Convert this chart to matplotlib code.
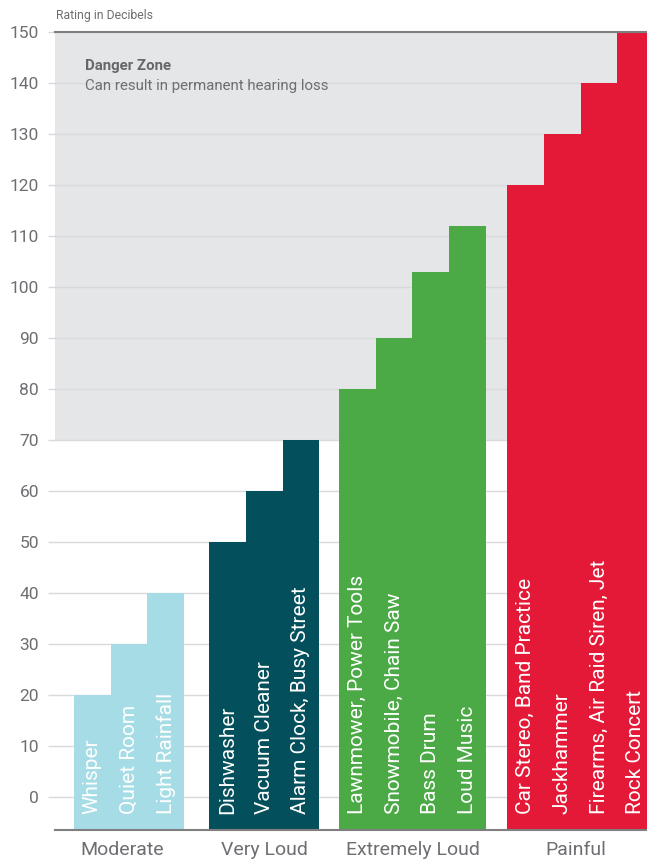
import matplotlib
matplotlib.use('Agg')
import matplotlib.pyplot as plt
from matplotlib.patches import Rectangle

plt.rcParams['font.family'] = ['Roboto', 'DejaVu Sans']

# ---- data ----
groups = ['Moderate', 'Very Loud', 'Extremely Loud', 'Painful']
group_colors = ['#A6DCE6', '#034F5B', '#4BAA46', '#E31937']

moderate_sources = ['Whisper', 'Quiet Room', 'Light Rainfall']
moderate_db = [20, 30, 40]
very_loud_sources = ['Dishwasher', 'Vacuum Cleaner', 'Alarm Clock, Busy Street']
very_loud_db = [50, 60, 70]
extremely_loud_sources = ['Lawnmower, Power Tools', 'Snowmobile, Chain Saw', 'Bass Drum', 'Loud Music']
extremely_loud_db = [80, 90, 103, 112]
painful_sources = ['Car Stereo, Band Practice', 'Jackhammer', 'Firearms, Air Raid Siren, Jet', 'Rock Concert']
painful_db = [120, 130, 140, 150]

group_sources = [moderate_sources, very_loud_sources, extremely_loud_sources, painful_sources]
group_db = [moderate_db, very_loud_db, extremely_loud_db, painful_db]

y_ticks = list(range(0, 151, 10))
danger_threshold = 70

# ---- figure ----
W, H = 647, 864
fig = plt.figure(figsize=(W / 100, H / 100), dpi=100)
ax = fig.add_axes([55 / W, 34 / H, 592 / W, 798 / H])

ymin, ymax = -6.5, 150
ax.set_ylim(ymin, ymax)
ax.set_xlim(-0.518, 15.61)

grey_text = '#6D6E71'

# danger zone
ax.add_patch(Rectangle((0, danger_threshold), 1, ymax - danger_threshold,
                       transform=ax.get_yaxis_transform(), facecolor='#E5E6E8',
                       edgecolor='none', zorder=0.2))
ax.text(0.3, 143.3, 'Danger Zone', fontsize=10.8, fontweight='bold', color='#666769',
        va='center', ha='left', zorder=3)
ax.text(0.3, 139.4, 'Can result in permanent hearing loss', fontsize=10.8, color=grey_text,
        va='center', ha='left', zorder=3)

group_starts = [0.0, 3.68, 7.22, 11.8]
label_shift = [-0.2, 0.0, 0.0, -0.12]
for g, (name, color, srcs, vals) in enumerate(zip(groups, group_colors, group_sources, group_db)):
    start = group_starts[g]
    xs = [start + i + 0.5 for i in range(len(vals))]
    ax.bar(xs, [v - ymin for v in vals], bottom=ymin, width=1.0, color=color,
           edgecolor='none', zorder=2)
    for x, s in zip(xs, srcs):
        ax.text(x, -3.3, s, rotation=90, ha='center', va='bottom', color='white',
                fontsize=15, zorder=3, clip_on=True)
    center = start + len(vals) / 2 + label_shift[g]
    ax.text(center, -20 / 798, name, transform=ax.get_xaxis_transform(), ha='center',
            va='center', fontsize=14, color=grey_text)

# axes styling
ax.set_yticks(y_ticks)
ax.set_yticklabels([str(t) for t in y_ticks])
ax.set_xticks([])
ax.tick_params(axis='y', length=5, width=1, color='#D9D9DC', labelcolor=grey_text,
               labelsize=12.5, pad=6.5)
ax.yaxis.grid(True, color='#D9D9DC', linewidth=1)
ax.set_axisbelow(True)
for side in ['left', 'right']:
    ax.spines[side].set_visible(False)
for side in ['top', 'bottom']:
    ax.spines[side].set_color('#7F7F7F')
    ax.spines[side].set_linewidth(1.5)

fig.text(56 / W, 1 - 15 / H, 'Rating in Decibels', fontsize=8.8, color=grey_text,
         ha='left', va='center')

fig.savefig('out.png', dpi=100)
